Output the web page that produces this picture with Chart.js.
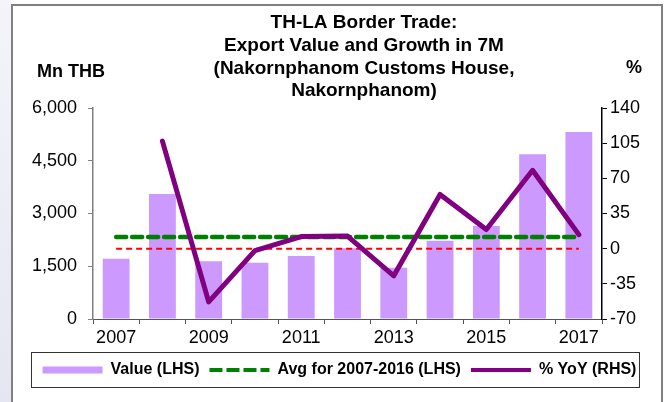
<!DOCTYPE html>
<html lang="en">
<head>
    <meta charset="UTF-8">
    <title>TH-LA Border Trade: Export Value and Growth in 7M</title>
    <script src="https://cdn.jsdelivr.net/npm/chart.js"></script>
    <style>
        body { margin: 0; background: #fff; font-family: "Liberation Sans", Arial, sans-serif; }
        .wrap { position: relative; width: 665px; height: 402px; overflow: hidden; }
        .side { position: absolute; left: 0; top: 0; width: 11px; height: 402px; background: linear-gradient(#f4f4fa, #e6e6f2); }
        .frame { position: absolute; left: 11px; top: 4px; width: 648px; height: 420px; border: 2px solid #808080; background: #fff; }
        canvas { position: absolute; left: 0; top: 0; }
    </style>
</head>
<body>
    <div class="wrap">
        <div class="side"></div>
        <div class="frame"></div>
        <canvas id="tradeChart" width="665" height="402"></canvas>
    </div>
    <script>
        const years = ['2007', '2008', '2009', '2010', '2011', '2012', '2013', '2014', '2015', '2016', '2017'];
        // export value, Mn THB (Jan-Jul of each year)
        const exportValue = [1715, 3555, 1640, 1600, 1790, 2010, 1460, 2225, 2645, 4685, 5320];
        // growth vs same period of previous year, %
        const yoyPct = [null, 107, -53, -2, 12, 12.5, -27, 54, 19, 78, 14];
        const avgValue = 2333; // average 2007-2016
        const leftTicks = { min: 0, max: 6000, step: 1500 };
        const rightTicks = { min: -70, max: 140, step: 35 };
        const titleLines = ['TH-LA Border Trade:', 'Export Value and Growth in 7M', '(Nakornphanom Customs House,', 'Nakornphanom)'];

        const FONT = '"Liberation Sans", Arial, sans-serif';

        // title, unit labels and the box round the legend
        const decorations = {
            id: 'decorations',
            afterDraw(chart) {
                const ctx = chart.ctx;
                ctx.save();
                ctx.fillStyle = '#000';
                ctx.textBaseline = 'middle';
                ctx.textAlign = 'center';
                ctx.font = 'bold 19px ' + FONT;
                titleLines.forEach((t, i) => ctx.fillText(t, 364, 23 + i * 22.7));
                ctx.font = 'bold 18px ' + FONT;
                ctx.textAlign = 'left';
                ctx.fillText('Mn THB', 37, 72);
                ctx.textAlign = 'center';
                ctx.fillText('%', 634, 68);

                const lg = chart.legend;
                const boxes = lg.legendHitBoxes;
                if (boxes && boxes.length) {
                    const last = boxes[boxes.length - 1];
                    const x0 = boxes[0].left - 12;
                    const x1 = last.left + last.width + 2;
                    ctx.strokeStyle = '#333';
                    ctx.lineWidth = 1;
                    ctx.strokeRect(Math.round(x0) + 0.5, lg.top + 0.5, Math.round(x1 - x0), lg.height - 1);
                }
                ctx.restore();
            }
        };

        const ctx = document.getElementById('tradeChart').getContext('2d');
        new Chart(ctx, {
            type: 'bar',
            data: {
                labels: years,
                datasets: [
                    {
                        type: 'line', label: '% YoY (RHS)', data: yoyPct, yAxisID: 'yR',
                        borderColor: '#800080', borderWidth: 5, pointRadius: 0,
                        borderCapStyle: 'round', borderJoinStyle: 'round', order: 1
                    },
                    {
                        type: 'line', label: 'Avg for 2007-2016 (LHS)', data: years.map(() => avgValue), yAxisID: 'yL',
                        borderColor: '#008000', borderWidth: 4.5, borderDash: [10, 6], borderCapStyle: 'round',
                        pointRadius: 0, order: 2
                    },
                    {
                        type: 'line', label: 'Zero line', data: years.map(() => 0), yAxisID: 'yR',
                        borderColor: '#ff0000', borderWidth: 2, borderDash: [6, 4], pointRadius: 0, order: 3
                    },
                    {
                        label: 'Value (LHS)', data: exportValue, yAxisID: 'yL',
                        backgroundColor: '#cc99ff', barPercentage: 0.58, categoryPercentage: 1, order: 4
                    }
                ]
            },
            options: {
                responsive: false,
                animation: false,
                layout: { padding: { left: 14, right: 0, top: 108, bottom: 14 } },
                plugins: {
                    title: { display: false },
                    tooltip: { enabled: false },
                    legend: {
                        position: 'bottom',
                        labels: {
                            usePointStyle: true, pointStyleWidth: 60, boxHeight: 7, padding: 10,
                            color: '#000', font: { family: FONT, size: 16, weight: 'bold' },
                            generateLabels(chart) {
                                const ds = chart.data.datasets;
                                const order = [3, 1, 0];
                                return order.map(i => {
                                    const d = ds[i];
                                    const isBar = !d.type;
                                    return {
                                        text: d.label, datasetIndex: i, hidden: false,
                                        pointStyle: isBar ? 'rect' : 'line',
                                        fillStyle: isBar ? d.backgroundColor : 'transparent',
                                        strokeStyle: isBar ? d.backgroundColor : d.borderColor,
                                        lineWidth: isBar ? 0 : 4,
                                        lineDash: d.borderDash ? [13, 4] : [],
                                        lineCap: 'butt'
                                    };
                                });
                            }
                        }
                    }
                },
                scales: {
                    x: {
                        grid: { offset: true, drawOnChartArea: false, tickLength: 5, color: '#555' },
                        border: { color: '#555', width: 1 },
                        ticks: {
                            autoSkip: false, maxRotation: 0, padding: 3, color: '#000',
                            font: { family: FONT, size: 18 },
                            callback: (v, i) => (i % 2 === 0 ? years[i] : '')
                        },
                        afterFit(scale) { scale.height = 33; }
                    },
                    yL: {
                        position: 'left', min: leftTicks.min, max: leftTicks.max,
                        grid: { drawOnChartArea: false, tickLength: 5, color: '#808080' },
                        border: { color: '#808080', width: 1.5 },
                        ticks: {
                            stepSize: leftTicks.step, padding: 11, color: '#000',
                            font: { family: FONT, size: 18 },
                            callback: v => v.toLocaleString('en-US')
                        },
                        afterFit(scale) { scale.width = 79; }
                    },
                    yR: {
                        position: 'right', min: rightTicks.min, max: rightTicks.max,
                        grid: { drawOnChartArea: false, tickLength: 5, color: '#000' },
                        border: { color: '#000', width: 1.5 },
                        ticks: {
                            stepSize: rightTicks.step, padding: 3, color: '#000',
                            font: { family: FONT, size: 18 }
                        },
                        afterFit(scale) { scale.width = 63; }
                    }
                }
            },
            plugins: [decorations]
        });
    </script>
</body>
</html>
